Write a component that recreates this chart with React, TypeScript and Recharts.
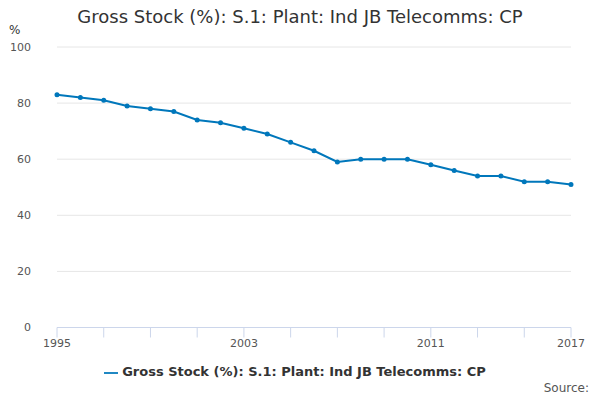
import { LineChart, Line, XAxis, YAxis, CartesianGrid, Legend } from "recharts";

const years = [1995, 1996, 1997, 1998, 1999, 2000, 2001, 2002, 2003, 2004, 2005, 2006, 2007, 2008, 2009, 2010, 2011, 2012, 2013, 2014, 2015, 2016, 2017];
const grossStock = [83, 82, 81, 79, 78, 77, 74, 73, 71, 69, 66, 63, 59, 60, 60, 60, 58, 56, 54, 54, 52, 52, 51];
const xTicks = [1995, 1997, 1999, 2001, 2003, 2005, 2007, 2009, 2011, 2013, 2015, 2017];
const labelledYears = [1995, 2003, 2011, 2017];
const yTicks = [0, 20, 40, 60, 80, 100];

const seriesName = "Gross Stock (%): S.1: Plant: Ind JB Telecomms: CP";
const data = years.map((year, i) => ({ year, value: grossStock[i] }));

const font = "'DejaVu Sans', sans-serif";

export default function App() {
  return (
    <div style={{ position: "relative", width: 600, height: 400, margin: -8, fontFamily: font, background: "#fff" }}>
      <div style={{ position: "absolute", left: 0, width: 600, top: 6, textAlign: "center", fontSize: 18, color: "#333" }}>
        {seriesName}
      </div>
      <div style={{ position: "absolute", left: 9, top: 23, fontSize: 12, color: "#333" }}>%</div>
      <div style={{ position: "absolute", right: 11, top: 381, fontSize: 12, color: "#555", zIndex: 2 }}>Source:</div>
      <LineChart width={600} height={400} data={data} margin={{ top: 47, right: 29, left: 0, bottom: 27 }}>
        <CartesianGrid vertical={false} stroke="#e6e6e6" />
        <XAxis
          dataKey="year"
          type="number"
          domain={[1995, 2017]}
          ticks={xTicks}
          interval={0}
          tickFormatter={(v) => (labelledYears.includes(v) ? String(v) : "")}
          stroke="#ccd6eb"
          tickLine={{ stroke: "#ccd6eb" }}
          tickSize={10}
          tick={{ fill: "#555", fontSize: 11 }}
          height={30}
        />
        <YAxis
          domain={[0, 100]}
          ticks={yTicks}
          axisLine={false}
          tickLine={false}
          width={57}
          tick={{ fill: "#555", fontSize: 11 }}
          tickMargin={20}
        />
        <Legend
          verticalAlign="bottom"
          iconType="plainline"
          wrapperStyle={{ fontSize: 13, fontWeight: "bold", color: "#333", top: 364, left: 0, width: 600 }}
          formatter={(v) => <span style={{ color: "#333" }}>{v}</span>}
        />
        <Line
          name={seriesName}
          dataKey="value"
          stroke="#0077bb"
          strokeWidth={2}
          dot={{ r: 1.5, fill: "#0077bb", stroke: "#0077bb" }}
          isAnimationActive={false}
        />
      </LineChart>
    </div>
  );
}
